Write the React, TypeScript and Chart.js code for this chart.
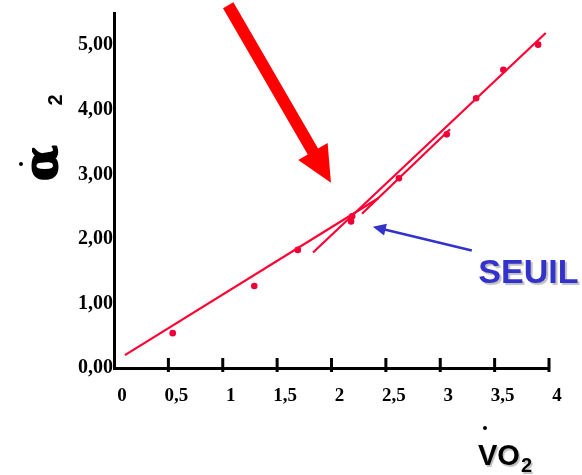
import React, { useEffect, useRef } from "react";
import { Chart, registerables } from "chart.js";

Chart.register(...registerables);

// Measured points (VO2, alpha2)
const pointsX = [0.54, 1.29, 1.69, 2.18, 2.19, 2.62, 3.06, 3.33, 3.58, 3.9];
const pointsY = [0.54, 1.27, 1.83, 2.27, 2.35, 2.94, 3.62, 4.18, 4.62, 5.01];

// Fit lines (two end points each)
const lineAX = [0.1, 2.43];
const lineAY = [0.2, 2.63];
const lineBX = [1.83, 3.97];
const lineBY = [1.79, 5.19];
const lineCX = [2.28, 3.09];
const lineCY = [2.39, 3.7];

// Annotations (data coordinates)
const bigArrowFrom = [1.05, 5.62];
const bigArrowTo = [1.995, 2.87];
const seuilArrowFrom = [3.29, 1.82];
const seuilArrowTo = [2.38, 2.19];
const seuilLabelAt = [3.35, 1.31];
const seuilText = "SEUIL";

const xMin = 0;
const xMax = 4;
const xStep = 0.5;
const yMin = 0;
const yMax = 5.5;
const yStep = 1;

const RED_LINE = "rgb(255,0,51)";
const RED_DOT = "rgb(236,0,56)";
const BLUE = "#3333cc";

const toPts = (xs: number[], ys: number[]) => xs.map((v, i) => ({ x: v, y: ys[i] }));

const annotPlugin = {
  id: "annot",
  afterDraw(chart: any) {
    const { ctx, chartArea } = chart;
    const xs = chart.scales.x;
    const ys = chart.scales.y;
    const P = (p: number[]) => [xs.getPixelForValue(p[0]), ys.getPixelForValue(p[1])];
    ctx.save();

    // inward tick marks on x axis
    ctx.strokeStyle = "#000";
    ctx.lineWidth = 3;
    xs.ticks.forEach((t: any) => {
      if (t.value === 0) return;
      const px = xs.getPixelForValue(t.value);
      ctx.beginPath();
      ctx.moveTo(px, chartArea.bottom - 10);
      ctx.lineTo(px, chartArea.bottom + 4);
      ctx.stroke();
    });

    // big red block arrow
    {
      const [tx, ty] = P(bigArrowFrom);
      const [hx, hy] = P(bigArrowTo);
      const dx = hx - tx, dy = hy - ty;
      const L = Math.hypot(dx, dy);
      const ux = dx / L, uy = dy / L;
      const nx = -uy, ny = ux;
      const headLen = 36, headHalf = 17, shaftHalf = 6;
      const bx = hx - ux * headLen, by = hy - uy * headLen;
      ctx.fillStyle = "#ff0000";
      ctx.beginPath();
      ctx.moveTo(tx + nx * shaftHalf, ty + ny * shaftHalf);
      ctx.lineTo(bx + nx * shaftHalf, by + ny * shaftHalf);
      ctx.lineTo(bx + nx * headHalf, by + ny * headHalf);
      ctx.lineTo(hx, hy);
      ctx.lineTo(bx - nx * headHalf, by - ny * headHalf);
      ctx.lineTo(bx - nx * shaftHalf, by - ny * shaftHalf);
      ctx.lineTo(tx - nx * shaftHalf, ty - ny * shaftHalf);
      ctx.closePath();
      ctx.fill();
    }

    // blue arrow to threshold
    {
      const [tx, ty] = P(seuilArrowFrom);
      const [hx, hy] = P(seuilArrowTo);
      const dx = hx - tx, dy = hy - ty;
      const L = Math.hypot(dx, dy);
      const ux = dx / L, uy = dy / L;
      const nx = -uy, ny = ux;
      const headLen = 13, headHalf = 6;
      const bx = hx - ux * headLen, by = hy - uy * headLen;
      ctx.strokeStyle = BLUE;
      ctx.fillStyle = BLUE;
      ctx.lineWidth = 2.5;
      ctx.beginPath();
      ctx.moveTo(tx, ty);
      ctx.lineTo(bx + ux * 2, by + uy * 2);
      ctx.stroke();
      ctx.beginPath();
      ctx.moveTo(hx, hy);
      ctx.lineTo(bx + nx * headHalf, by + ny * headHalf);
      ctx.lineTo(bx - nx * headHalf, by - ny * headHalf);
      ctx.closePath();
      ctx.fill();
    }

    // SEUIL label
    {
      const [lx, ly] = P(seuilLabelAt);
      ctx.font = 'bold 34px "Liberation Sans", Arial, sans-serif';
      ctx.textAlign = "left";
      ctx.textBaseline = "alphabetic";
      ctx.shadowColor = "rgba(0,0,0,0.25)";
      ctx.shadowOffsetX = 2;
      ctx.shadowOffsetY = 2;
      ctx.shadowBlur = 1;
      ctx.fillStyle = BLUE;
      ctx.fillText(seuilText, lx, ly);
      ctx.shadowColor = "transparent";
    }

    // x axis title: V̇O2
    {
      ctx.fillStyle = "#000";
      ctx.shadowColor = "rgba(0,0,0,0.25)";
      ctx.shadowOffsetX = 1.5;
      ctx.shadowOffsetY = 1.5;
      ctx.font = 'bold 29px "Liberation Sans", Arial, sans-serif';
      ctx.textAlign = "left";
      ctx.textBaseline = "alphabetic";
      ctx.fillText("VO", 478, 465);
      ctx.font = 'bold 20px "Liberation Sans", Arial, sans-serif';
      ctx.fillText("2", 521, 472);
      ctx.shadowColor = "transparent";
      ctx.beginPath();
      ctx.arc(485, 428, 2, 0, Math.PI * 2);
      ctx.fill();
    }

    // y axis title: α̇2 (rotated)
    {
      ctx.fillStyle = "#000";
      ctx.strokeStyle = "#000";
      ctx.save();
      ctx.translate(45, 163);
      ctx.rotate(-Math.PI / 2);
      ctx.font = 'bold 46px "DejaVu Serif", "Liberation Serif", serif';
      ctx.textAlign = "center";
      ctx.textBaseline = "middle";
      ctx.lineWidth = 2;
      ctx.lineJoin = "round";
      ctx.strokeText("α", 0, 0);
      ctx.fillText("α", 0, 0);
      ctx.restore();
      ctx.save();
      ctx.translate(56, 100);
      ctx.rotate(-Math.PI / 2);
      ctx.font = 'bold 20px "Liberation Sans", Arial, sans-serif';
      ctx.textAlign = "center";
      ctx.textBaseline = "middle";
      ctx.fillText("2", 0, 0);
      ctx.restore();
      ctx.beginPath();
      ctx.arc(21, 164, 2, 0, Math.PI * 2);
      ctx.fill();
    }

    ctx.restore();
  },
};

export default function App() {
  const ref = useRef<HTMLCanvasElement | null>(null);

  useEffect(() => {
    if (!ref.current) return;
    const lineDs = (xs: number[], ys: number[]) => ({
      type: "scatter" as const,
      data: toPts(xs, ys),
      showLine: true,
      borderColor: RED_LINE,
      borderWidth: 2.2,
      pointRadius: 0,
      pointHoverRadius: 0,
      fill: false,
    });
    const chart = new Chart(ref.current, {
      type: "scatter",
      data: {
        datasets: [
          lineDs(lineAX, lineAY),
          lineDs(lineBX, lineBY),
          lineDs(lineCX, lineCY),
          {
            type: "scatter",
            data: toPts(pointsX, pointsY),
            pointRadius: 3.3,
            pointBackgroundColor: RED_DOT,
            pointBorderWidth: 0,
            showLine: false,
          } as any,
        ],
      },
      options: {
        animation: false,
        responsive: false,
        events: [],
        layout: { padding: { top: 12, right: 33, left: 0, bottom: 0 } },
        plugins: { legend: { display: false }, tooltip: { enabled: false }, title: { display: false } },
        scales: {
          x: {
            type: "linear",
            min: xMin,
            max: xMax,
            afterFit: (s: any) => {
              s.height = 107;
            },
            grid: { display: false, drawTicks: false },
            border: { display: true, color: "#000", width: 3 },
            ticks: {
              stepSize: xStep,
              includeBounds: false,
              maxRotation: 0,
              autoSkip: false,
              padding: 17,
              labelOffset: 8,
              color: "#000",
              font: { family: '"Liberation Serif", "Times New Roman", serif', weight: "bold", size: 19 },
              callback: (v: any) => String(v).replace(".", ","),
            },
          },
          y: {
            type: "linear",
            min: yMin,
            max: yMax,
            afterFit: (s: any) => {
              s.width = 114;
            },
            grid: { display: false, drawTicks: false },
            border: { display: true, color: "#000", width: 3 },
            ticks: {
              stepSize: yStep,
              includeBounds: false,
              padding: 1,
              color: "#000",
              font: { family: '"Liberation Serif", "Times New Roman", serif', weight: "bold", size: 20 },
              callback: (v: any) => Number(v).toFixed(2).replace(".", ","),
            },
          },
        },
      },
      plugins: [annotPlugin],
    } as any);
    return () => chart.destroy();
  }, []);

  return (
    <div style={{ position: "fixed", left: 0, top: 0, width: 582, height: 475, background: "#fff" }}>
      <canvas ref={ref} width={582} height={475} style={{ display: "block" }} />
    </div>
  );
}
